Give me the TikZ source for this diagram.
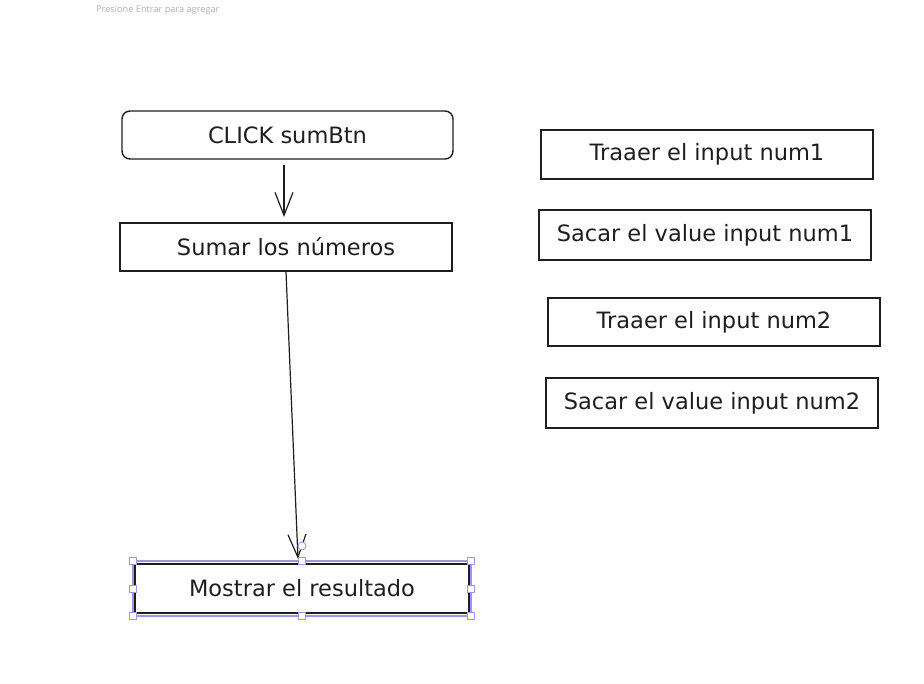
\documentclass[tikz,border=0pt]{standalone}
\usepackage{fontspec}
\setmainfont{DejaVu Sans}
\newfontfamily\uifont{Open Sans}
\usetikzlibrary{arrows.meta}
\definecolor{ink}{HTML}{1E1E1E}
\definecolor{selc}{HTML}{9D96E8}
\definecolor{hint}{HTML}{B0B0B0}
\begin{document}
\begin{tikzpicture}[x=1pt,y=-1pt,
  box/.style={draw=ink,line width=1.4pt,minimum height=48pt,inner sep=0pt,font=\fontsize{22.5}{24}\selectfont,text=ink},
  conn/.style={draw=ink,line width=1.2pt,-{Straight Barb[length=23pt,width=18pt,line width=1.2pt]}},
  handle/.style={draw=selc,fill=white,line width=0.9pt,minimum size=7.5pt,inner sep=0pt}]
\useasboundingbox (0,0) rectangle (924,684);
\node[font=\uifont\fontsize{9.2}{11}\selectfont,text=hint,anchor=west,inner sep=0pt] (hint) at (96,10) {Presione Entrar para agregar};
% left column
\node[box,rounded corners=8pt,minimum width=331pt] (click) at (287.5,135) {CLICK sumBtn};
\node[box,minimum width=332pt] (sumar) at (286,247) {Sumar los números};
\node[box,minimum width=334pt,minimum height=49pt] (mostrar) at (302,588.5) {Mostrar el resultado};
% right column
\node[box,minimum width=332pt,minimum height=49pt] (t1) at (707,154.5) {Traaer el input num1};
\node[box,minimum width=332pt,minimum height=50pt] (s1) at (705,235) {Sacar el value input num1};
\node[box,minimum width=332pt] (t2) at (714,322) {Traaer el input num2};
\node[box,minimum width=332pt,minimum height=50pt] (s2) at (712,403) {Sacar el value input num2};
% connectors
\coordinate (a1s) at (284,165);
\coordinate (a1e) at (284,217);
\draw[conn] (a1s) -- (a1e);
\coordinate (a2s) at (286,272);
\coordinate (a2e) at (298,559);
\draw[conn] (a2s) -- (a2e);
% selection frame
\draw[selc,line width=1.2pt] (133,561) rectangle (471,616);
\coordinate (rot) at (302,546);
\draw[selc,fill=white,line width=0.9pt] (rot) circle (4pt);
\node[handle] (h1) at (133,561) {};
\node[handle] (h2) at (302,561) {};
\node[handle] (h3) at (471,561) {};
\node[handle] (h4) at (133,589) {};
\node[handle] (h5) at (471,589) {};
\node[handle] (h6) at (133,616) {};
\node[handle] (h7) at (302,616) {};
\node[handle] (h8) at (471,616) {};
\end{tikzpicture}
\end{document}
